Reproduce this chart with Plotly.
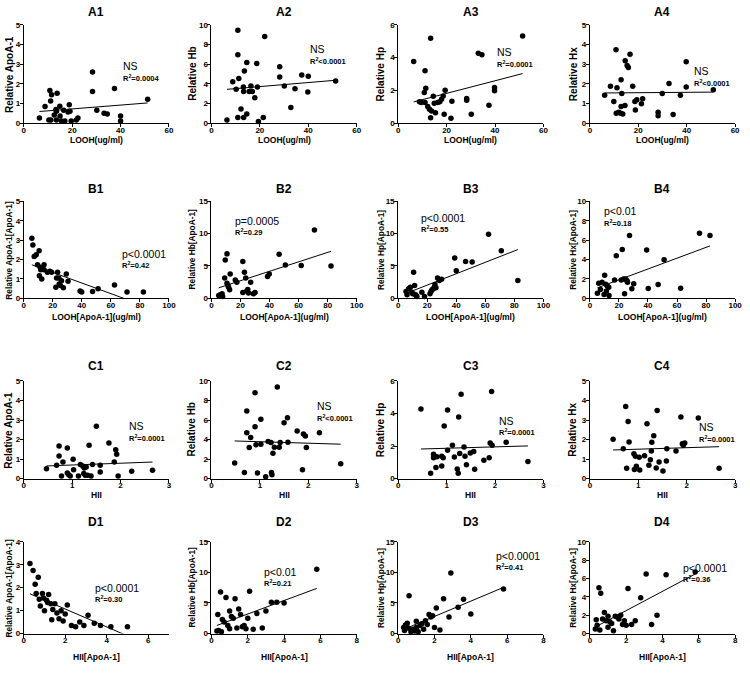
import numpy as np
import plotly.graph_objects as go

# ---------------- data ----------------
# Row A : x = LOOH (ug/ml)
a1_x = [6.5, 8.8, 10.8, 11.5, 11.1, 10.4, 11.2, 12.6, 13.3, 13.5, 13.8, 13.5, 14.9, 15.0, 15.6, 16.5, 17.0, 18.3, 18.8, 19.1, 19.6, 21.7, 22.4, 28.4, 28.4, 30.2, 33.2, 34.5, 37.5, 40.0, 40.0, 51.2]
a1_y = [0.27, 0.85, 1.67, 1.45, 1.13, 0.17, 0.17, 0.43, 0.70, 0.62, 1.53, 0.17, 0.87, 0.37, 0.12, 0.67, 0.12, 0.58, 0.95, 0.62, 0.12, 0.17, 0.27, 2.60, 1.62, 0.67, 0.52, 0.47, 1.77, 0.37, 0.12, 1.22]
a2_x = [6.4, 8.8, 10.2, 10.9, 10.9, 11.3, 10.9, 12.2, 13.2, 13.3, 13.6, 13.3, 14.6, 14.6, 15.6, 16.3, 16.9, 17.9, 18.7, 19.0, 19.4, 21.4, 22.0, 28.2, 28.2, 30.1, 32.8, 34.5, 37.3, 40.0, 39.8, 51.3]
a2_y = [0.34, 4.23, 3.45, 9.45, 6.96, 4.54, 0.61, 1.47, 3.69, 3.24, 5.32, 0.61, 6.18, 0.96, 3.24, 3.79, 3.24, 2.60, 6.08, 3.69, 0.20, 0.61, 8.80, 5.73, 4.71, 3.79, 1.60, 3.51, 4.91, 4.78, 3.17, 4.30]
a3_x = [6.4, 8.8, 9.5, 10.8, 11.1, 11.4, 11.1, 12.2, 12.9, 13.4, 13.4, 13.8, 14.5, 14.9, 15.4, 16.3, 17.2, 17.9, 18.6, 19.0, 19.4, 21.8, 22.2, 28.3, 28.3, 30.2, 33.1, 34.6, 37.5, 39.8, 39.8, 51.4]
a3_y = [3.76, 1.31, 1.27, 1.88, 3.20, 2.14, 1.27, 1.02, 0.86, 5.18, 0.35, 0.76, 1.65, 1.22, 0.65, 1.27, 1.31, 1.47, 1.67, 0.55, 2.02, 0.31, 1.35, 1.51, 1.41, 0.55, 4.27, 4.18, 1.10, 2.18, 1.98, 5.31]
a4_x = [6.1, 8.5, 9.9, 10.8, 10.9, 11.2, 11.9, 12.7, 12.9, 12.9, 13.2, 13.6, 14.5, 14.6, 15.4, 15.9, 16.6, 17.7, 18.6, 18.8, 19.4, 21.3, 21.8, 28.2, 28.2, 29.9, 32.7, 34.4, 37.4, 39.8, 39.8, 51.0]
a4_y = [1.42, 1.88, 1.11, 3.73, 0.51, 1.81, 0.56, 0.51, 2.21, 0.86, 1.51, 0.48, 0.91, 3.17, 2.93, 2.83, 3.51, 1.88, 1.11, 0.68, 1.20, 0.99, 1.25, 0.56, 0.39, 1.51, 2.02, 0.45, 1.42, 1.85, 3.13, 1.71]

# Row B : x = LOOH[ApoA-1] (ug/ml)
b1_x = [5.6, 6.3, 7.2, 8.6, 9.5, 10.6, 10.8, 11.3, 11.7, 12.4, 12.9, 14.0, 14.0, 16.3, 18.0, 19.2, 22.1, 22.6, 23.3, 24.2, 24.4, 25.3, 26.0, 27.3, 29.3, 30.5, 38.8, 39.9, 47.4, 51.2, 62.5, 71.1, 82.4]
b1_y = [3.09, 2.75, 2.15, 2.24, 1.72, 2.44, 1.16, 1.59, 1.47, 0.99, 1.54, 1.72, 1.47, 1.33, 1.38, 1.33, 0.56, 1.04, 1.33, 1.04, 0.73, 0.65, 0.90, 0.53, 1.25, 0.87, 0.36, 0.31, 0.34, 0.48, 0.68, 0.31, 0.31]
b2_x = [5.0, 6.1, 7.3, 7.7, 9.1, 9.5, 10.7, 10.7, 11.4, 11.8, 12.5, 12.9, 16.4, 17.5, 21.6, 21.6, 22.7, 23.6, 24.3, 25.0, 25.5, 27.0, 28.9, 30.0, 38.6, 39.8, 46.6, 50.9, 61.8, 70.9, 82.3]
b2_y = [0.41, 0.51, 0.67, 0.26, 3.12, 5.89, 6.86, 2.30, 1.95, 1.69, 1.28, 3.74, 2.82, 2.46, 5.68, 0.87, 3.99, 3.12, 1.08, 1.33, 0.77, 2.46, 0.67, 0.87, 3.33, 3.74, 6.81, 5.12, 5.07, 10.55, 4.97]
b3_x = [5.4, 6.1, 7.2, 8.4, 9.5, 9.95, 10.6, 11.3, 11.8, 12.4, 12.9, 16.3, 18.1, 21.9, 22.6, 23.3, 24.2, 24.9, 25.3, 26.0, 27.1, 28.3, 29.9, 38.9, 40.0, 46.4, 50.9, 62.2, 71.0, 82.4]
b3_y = [1.02, 0.51, 1.43, 1.69, 0.92, 0.67, 3.99, 1.95, 0.56, 0.41, 0.26, 0.92, 0.26, 0.67, 1.02, 1.28, 1.43, 1.69, 2.10, 1.59, 3.12, 2.71, 2.92, 6.20, 4.25, 5.68, 5.58, 9.88, 7.32, 2.71]
b4_x = [5.2, 6.1, 7.3, 8.4, 9.8, 10.2, 10.9, 11.4, 12.0, 13.0, 13.2, 17.0, 18.2, 21.6, 22.3, 23.2, 23.9, 24.5, 25.5, 25.9, 27.3, 28.9, 30.2, 39.1, 40.2, 47.0, 51.1, 62.5, 75.5, 82.7]
b4_y = [0.51, 1.54, 0.89, 1.64, 0.38, 2.35, 1.43, 0.72, 1.26, 1.13, 0.27, 1.88, 4.37, 1.88, 5.02, 1.98, 0.44, 1.98, 1.81, 1.64, 6.48, 0.96, 1.47, 4.98, 0.99, 1.40, 3.96, 1.02, 6.69, 6.48]

# Row C : x = HII
c1_x = [0.47, 0.68, 0.73, 0.73, 0.78, 0.81, 0.90, 0.90, 0.93, 0.96, 1.02, 1.03, 1.13, 1.17, 1.22, 1.24, 1.25, 1.27, 1.29, 1.32, 1.35, 1.39, 1.42, 1.50, 1.58, 1.58, 1.76, 1.87, 1.90, 1.92, 1.95, 2.23, 2.66]
c1_y = [0.51, 0.68, 1.67, 1.16, 0.14, 0.85, 0.29, 1.57, 0.20, 0.14, 0.99, 0.46, 0.14, 0.72, 0.65, 0.26, 0.55, 0.17, 0.60, 0.17, 1.71, 0.14, 0.73, 2.68, 0.68, 0.34, 1.83, 0.85, 1.48, 1.25, 0.14, 0.38, 0.43]
c2_x = [0.48, 0.68, 0.73, 0.73, 0.78, 0.81, 0.90, 0.90, 0.92, 0.95, 1.02, 1.02, 1.12, 1.17, 1.23, 1.24, 1.25, 1.27, 1.30, 1.36, 1.40, 1.42, 1.50, 1.57, 1.58, 1.77, 1.88, 1.90, 1.94, 1.96, 2.23, 2.67]
c2_y = [1.59, 0.64, 6.92, 4.71, 3.19, 4.20, 8.78, 5.32, 3.46, 0.58, 6.07, 3.53, 0.20, 3.80, 3.69, 0.64, 0.41, 2.61, 3.22, 9.39, 3.22, 3.69, 5.73, 6.24, 3.73, 4.88, 0.92, 4.58, 4.37, 3.19, 4.71, 1.53]
c3_x = [0.47, 0.67, 0.73, 0.73, 0.76, 0.78, 0.80, 0.90, 0.90, 0.93, 0.95, 1.02, 1.02, 1.12, 1.16, 1.22, 1.24, 1.25, 1.27, 1.30, 1.36, 1.38, 1.41, 1.49, 1.56, 1.58, 1.77, 1.88, 1.90, 1.93, 1.94, 2.23, 2.68]
c3_y = [4.28, 0.33, 1.50, 1.29, 1.35, 0.68, 1.35, 0.78, 1.37, 1.29, 3.24, 4.22, 1.74, 2.05, 1.33, 0.59, 0.33, 3.79, 1.54, 5.18, 1.95, 1.37, 0.86, 1.58, 1.66, 0.57, 1.13, 1.29, 2.19, 5.35, 2.05, 2.23, 1.05]
c4_x = [0.48, 0.69, 0.74, 0.76, 0.79, 0.81, 0.91, 0.92, 0.94, 0.96, 1.02, 1.03, 1.13, 1.18, 1.22, 1.25, 1.27, 1.28, 1.32, 1.37, 1.39, 1.43, 1.51, 1.58, 1.59, 1.78, 1.88, 1.91, 1.93, 1.96, 2.24, 2.67]
c4_y = [2.02, 1.53, 3.69, 0.53, 2.92, 1.88, 1.27, 0.47, 1.14, 0.63, 1.10, 0.44, 1.17, 2.81, 0.68, 0.97, 1.41, 1.86, 2.20, 0.54, 3.49, 0.85, 0.39, 0.90, 1.53, 1.41, 3.15, 1.78, 1.71, 1.83, 3.10, 0.53]

# Row D : x = HII[ApoA-1]
d1_x = [0.30, 0.45, 0.55, 0.60, 0.70, 0.75, 0.80, 0.90, 0.95, 1.00, 1.10, 1.15, 1.20, 1.30, 1.35, 1.40, 1.50, 1.60, 1.70, 1.80, 1.90, 2.00, 2.10, 2.30, 2.50, 2.70, 2.90, 3.10, 3.40, 3.70, 4.20, 5.00]
d1_y = [3.05, 2.75, 2.15, 1.75, 2.45, 1.50, 1.20, 1.75, 1.55, 1.00, 1.45, 1.35, 1.70, 1.30, 0.60, 1.05, 1.30, 0.90, 0.65, 1.00, 0.55, 0.85, 1.25, 0.35, 0.30, 0.50, 0.35, 0.80, 0.45, 0.35, 0.30, 0.30]
d2_x = [0.30, 0.35, 0.40, 0.50, 0.55, 0.60, 0.70, 0.80, 0.90, 1.00, 1.00, 1.10, 1.20, 1.30, 1.40, 1.50, 1.60, 1.70, 1.80, 1.90, 2.00, 2.10, 2.30, 2.50, 2.80, 3.00, 3.30, 3.60, 4.00, 5.80]
d2_y = [0.40, 3.10, 0.50, 6.80, 0.30, 2.30, 1.90, 5.90, 1.30, 3.70, 0.80, 2.80, 2.50, 5.70, 0.90, 4.00, 3.10, 1.10, 1.30, 0.80, 2.50, 6.90, 0.70, 3.30, 0.90, 3.70, 5.10, 5.10, 5.00, 10.50]
d3_x = [0.30, 0.35, 0.40, 0.50, 0.55, 0.60, 0.70, 0.80, 0.90, 1.00, 1.00, 1.10, 1.20, 1.30, 1.40, 1.50, 1.60, 1.70, 1.80, 1.90, 2.00, 2.10, 2.30, 2.50, 2.80, 2.90, 3.30, 3.60, 4.00, 5.80]
d3_y = [1.00, 0.50, 1.40, 1.70, 0.90, 6.20, 0.30, 0.70, 0.40, 1.00, 2.00, 0.30, 1.30, 1.60, 0.70, 2.10, 1.50, 3.10, 2.70, 2.90, 1.00, 4.20, 0.60, 5.70, 2.70, 9.90, 4.30, 5.60, 3.20, 7.30]
d4_x = [0.30, 0.35, 0.40, 0.50, 0.55, 0.60, 0.70, 0.80, 0.90, 1.00, 1.00, 1.10, 1.20, 1.30, 1.40, 1.50, 1.60, 1.70, 1.80, 1.90, 2.00, 2.10, 2.30, 2.50, 2.80, 3.10, 3.40, 3.70, 4.20, 5.80]
d4_y = [0.50, 1.50, 0.90, 5.00, 0.40, 4.40, 1.60, 2.30, 1.40, 0.70, 1.90, 1.30, 1.10, 0.30, 1.90, 1.80, 1.60, 2.00, 1.00, 1.40, 0.90, 4.90, 1.00, 1.40, 3.90, 6.50, 1.00, 2.00, 6.40, 6.70]

xs = [a1_x, a2_x, a3_x, a4_x, b1_x, b2_x, b3_x, b4_x, c1_x, c2_x, c3_x, c4_x, d1_x, d2_x, d3_x, d4_x]
ys = [a1_y, a2_y, a3_y, a4_y, b1_y, b2_y, b3_y, b4_y, c1_y, c2_y, c3_y, c4_y, d1_y, d2_y, d3_y, d4_y]

# regression lines (intercept, slope)
fit_intercept = [0.54, 3.32, 1.06, 1.535, 1.873, 1.22, 0.24, 0.77, 0.607, 3.93, 1.78, 1.43, 1.85, 1.0, 0.3, 0.4]
fit_slope = [0.0097, 0.0205, 0.0383, 0.001, -0.0274, 0.0733, 0.0884, 0.0559, 0.0913, -0.151, 0.086, 0.077, -0.39, 1.1, 1.25, 1.05]

panel_names = ["A1", "A2", "A3", "A4", "B1", "B2", "B3", "B4", "C1", "C2", "C3", "C4", "D1", "D2", "D3", "D4"]
x_titles = ["LOOH(ug/ml)"] * 4 + ["LOOH[ApoA-1](ug/ml)"] * 4 + ["HII"] * 4 + ["HII[ApoA-1]"] * 4
y_titles = ["Relative ApoA-1", "Relative Hb", "Relative Hp", "Relative Hx",
            "Relative ApoA-1[ApoA-1]", "Relative Hb[ApoA-1]", "Relative Hp[ApoA-1]", "Relative Hx[ApoA-1]",
            "Relative ApoA-1", "Relative Hb", "Relative Hp", "Relative Hx",
            "Relative ApoA-1[ApoA-1]", "Relative Hb[ApoA-1]", "Relative Hp[ApoA-1]", "Relative Hx[ApoA-1]"]
p_labels = ["NS", "NS", "NS", "NS", "p&lt;0.0001", "p=0.0005", "p&lt;0.0001", "p&lt;0.01",
            "NS", "NS", "NS", "NS", "p&lt;0.0001", "p&lt;0.01", "p&lt;0.0001", "p&lt;0.0001"]
r2_labels = ["=0.0004", "&lt;0.0001", "=0.0001", "&lt;0.0001", "=0.42", "=0.29", "=0.55", "=0.18",
             "=0.0001", "&lt;0.0001", "=0.0001", "=0.0001", "=0.30", "=0.21", "=0.41", "=0.36"]

x_max = [60, 60, 60, 60, 100, 100, 100, 100, 3, 3, 3, 3, 7, 8, 8, 8]
x_dtick = [20, 20, 20, 20, 20, 20, 20, 20, 1, 1, 1, 1, 2, 2, 2, 2]
y_max = [5, 10, 6, 5, 5, 15, 15, 10, 5, 10, 6, 5, 4, 15, 15, 10]
y_dtick = [1, 2, 2, 1, 1, 5, 5, 2, 1, 2, 2, 1, 1, 5, 5, 2]

# ---------------- layout geometry (pixels) ----------------
W, H = 750, 681
col_x0 = [22, 212, 401, 595]
plot_w = 147
row_top = [21, 200, 382, 545]
row_bot = [121, 298, 481, 638]
title_y = [8, 187, 367, 525]
xtitle_y = [138, 317, 498, 662]
ytitle_x = [7, 192, 383, 578]
# annotation anchors as fractions of each plot area
p_pos = [(0.67, 0.58), (0.667, 0.75), (0.667, 0.72), (0.70, 0.53),
         (0.66, 0.46), (0.15, 0.80), (0.14, 0.83), (0.084, 0.90),
         (0.71, 0.54), (0.71, 0.74), (0.68, 0.595), (0.74, 0.53),
         (0.48, 0.50), (0.35, 0.67), (0.66, 0.85), (0.63, 0.71)]
r_dy = 0.12

FONT = "Liberation Sans, Arial, sans-serif"
fig = go.Figure()
annotations = []

for i in range(16):
    r, c = divmod(i, 4)
    k = "" if i == 0 else str(i + 1)
    x0 = col_x0[c]
    dom_x = [x0 / W, (x0 + plot_w) / W]
    dom_y = [(H - row_bot[r]) / H, (H - row_top[r]) / H]
    ax_common = dict(showgrid=False, zeroline=False, showline=True, linecolor="black", linewidth=1,
                     ticks="outside", ticklen=3, tickwidth=1, tickcolor="black",
                     tickfont=dict(family=FONT, size=8, color="black", weight="bold"))
    fig.layout["xaxis" + k] = dict(domain=dom_x, anchor="y" + k, range=[0, x_max[i]], tick0=0,
                                   dtick=x_dtick[i], ticklabelstandoff=-4, **ax_common)
    fig.layout["yaxis" + k] = dict(domain=dom_y, anchor="x" + k, range=[0, y_max[i]], tick0=0,
                                   dtick=y_dtick[i], ticklabelstandoff=-2, **ax_common)

    fig.add_trace(go.Scatter(x=xs[i], y=ys[i], mode="markers", xaxis="x" + k, yaxis="y" + k,
                             marker=dict(size=5.5, color="black"), cliponaxis=False, showlegend=False))
    lx = np.array([min(xs[i]), max(xs[i])])
    ly = fit_intercept[i] + fit_slope[i] * lx
    fig.add_trace(go.Scatter(x=lx, y=ly, mode="lines", xaxis="x" + k, yaxis="y" + k,
                             line=dict(color="black", width=1), showlegend=False))

    cx = (x0 + plot_w / 2) / W
    annotations.append(dict(text="<b>%s</b>" % panel_names[i], x=cx, y=(H - title_y[r]) / H,
                            xref="paper", yref="paper", showarrow=False, xanchor="center", yanchor="middle",
                            font=dict(family=FONT, size=12, color="black")))
    annotations.append(dict(text="<b>%s</b>" % x_titles[i], x=cx, y=(H - xtitle_y[r]) / H,
                            xref="paper", yref="paper", showarrow=False, xanchor="center", yanchor="middle",
                            font=dict(family=FONT, size=8.5, color="black")))
    cy = (H - (row_top[r] + row_bot[r]) / 2) / H
    ysize = 10 if len(y_titles[i]) < 16 else 8.3
    annotations.append(dict(text="<b>%s</b>" % y_titles[i], x=ytitle_x[c] / W, y=cy,
                            xref="paper", yref="paper", showarrow=False, textangle=-90,
                            xanchor="center", yanchor="middle",
                            font=dict(family=FONT, size=ysize, color="black")))
    px, py = p_pos[i]
    annotations.append(dict(text=p_labels[i], x=px, y=py, xref="x%s domain" % k, yref="y%s domain" % k,
                            showarrow=False, xanchor="left", yanchor="middle",
                            font=dict(family=FONT, size=10.5, color="black")))
    annotations.append(dict(text="<b>R<sup>2</sup>%s</b>" % r2_labels[i], x=px, y=py - r_dy,
                            xref="x%s domain" % k, yref="y%s domain" % k,
                            showarrow=False, xanchor="left", yanchor="middle",
                            font=dict(family=FONT, size=7.5, color="black")))

fig.update_layout(width=W, height=H, margin=dict(l=0, r=0, t=0, b=0),
                  paper_bgcolor="white", plot_bgcolor="white", annotations=annotations,
                  font=dict(family=FONT, color="black"))
fig.write_html("out.html", config={"displayModeBar": False},
               post_script="document.body.style.margin='0px';document.body.style.overflow='hidden';")
